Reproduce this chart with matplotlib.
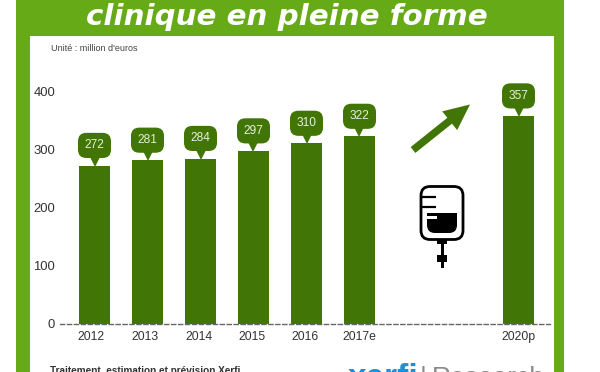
import matplotlib
matplotlib.use("Agg")
import matplotlib.pyplot as plt
from matplotlib.patches import FancyBboxPatch, FancyArrow, Rectangle
from matplotlib.transforms import offset_copy, ScaledTranslation

W, H = 600, 372

# data
years = ["2012", "2013", "2014", "2015", "2016", "2017e", "2020p"]
slots = [0, 1, 2, 3, 4, 5, 8]
values = [272, 281, 284, 297, 310, 322, 357]
yticks = [0, 100, 200, 300, 400]

title = "clinique en pleine forme"
unit = "Unité : million d'euros"
source = "Traitement, estimation et prévision Xerfi"

BAR = "#417505"
FRAME = "#66AB17"
TEXT = "#333333"

plt.rcParams["font.family"] = ["Liberation Sans", "DejaVu Sans"]

fig = plt.figure(figsize=(W / 100, H / 100), dpi=100, facecolor="white")

# page furniture, in pixel coordinates
bg = fig.add_axes([0, 0, 1, 1], zorder=0)
bg.set_xlim(0, W)
bg.set_ylim(H, 0)
bg.axis("off")
bg.add_patch(Rectangle((16, -2), 548, H + 4, color=FRAME, lw=0))
bg.add_patch(Rectangle((30, 36), 524, H, color="white", lw=0))
bg.text(287, 25, title, color="white", fontsize=21.2, family="DejaVu Sans",
        fontweight="bold", fontstyle="oblique", ha="center", va="baseline")
bg.text(51, 51, unit, color="#444444", fontsize=6.5, va="baseline")
bg.text(50, 374, source, color="#333333", fontsize=7.2, fontweight="bold", va="baseline")
bg.text(348, 387, "xerfi", color="#1F8FD6", fontsize=24, fontweight="bold", va="baseline")
bg.text(420, 385, "|", color="#8A8A8A", fontsize=19, va="baseline")
bg.text(432, 385, "Research", color="#8A8A8A", fontsize=19, va="baseline")

# growth arrow
bg.add_patch(FancyArrow(413, 150, 57, -45.5, width=7.5, head_width=24, head_length=26,
                        length_includes_head=True, color=BAR, lw=0))

# drip bag icon
bg.add_patch(FancyBboxPatch((427, 213), 30, 20, boxstyle="round,pad=0,rounding_size=8",
                            fc="black", ec="none"))
bg.add_patch(Rectangle((427, 213), 30, 8, color="black", lw=0))
bg.add_patch(FancyBboxPatch((421, 186.5), 42, 53, boxstyle="round,pad=0,rounding_size=9",
                            fc="none", ec="black", lw=2))
for y in [197, 207]:
    bg.plot([421, 436], [y, y], color="black", lw=1.6, solid_capstyle="butt")
bg.add_patch(Rectangle((426, 216), 11, 3, color="white", lw=0))
bg.add_patch(Rectangle((437, 239), 10, 5, color="black", lw=0))
bg.add_patch(Rectangle((440.5, 243), 3, 25, color="black", lw=0))
bg.add_patch(Rectangle((437, 255), 10, 7, color="black", lw=0))

# bar chart: slot 0 sits at x=94.5 px, one slot is 53 px; 0 at y=324 px, 400 at y=91 px
left, right, bottom, top = 60, 550, 324, 60
ax = fig.add_axes([left / W, 1 - bottom / H, (right - left) / W, (bottom - top) / H], zorder=1)
ax.patch.set_alpha(0)
ax.set_xlim((left - 94.5) / 53, (right - 94.5) / 53)
ax.set_ylim(0, 400 * (bottom - top) / (324 - 91))
ax.bar(slots, values, width=31 / 53, color=BAR, zorder=2)

ax.set_xticks(slots)
ax.set_xticklabels(years, fontsize=8.8, color=TEXT)
ax.set_yticks(yticks)
ax.set_yticklabels([str(t) for t in yticks], fontsize=9.4, color=TEXT)
ax.tick_params(length=0)
ax.tick_params(axis="x", pad=5)
ax.tick_params(axis="y", pad=3.6)

# the year labels sit a little left of their bars in the original
for lab, dx in zip(ax.get_xticklabels(), [-3, -2, -1, -1, -1, 0, 0]):
    lab.set_transform(lab.get_transform() + ScaledTranslation(dx / 100, 0, fig.dpi_scale_trans))

for s in ax.spines.values():
    s.set_visible(False)
ax.spines["bottom"].set_visible(True)
ax.spines["bottom"].set_linestyle((0, (3, 2)))
ax.spines["bottom"].set_color("#666666")
ax.spines["bottom"].set_linewidth(1)

# value callouts above each bar
tip = offset_copy(ax.transData, fig=fig, x=0, y=3.6, units="points")
ax.plot(slots, values, ls="none", marker="v", ms=8, color=BAR, mew=0, transform=tip,
        clip_on=False, zorder=3)
for x, v in zip(slots, values):
    ax.annotate(str(v), xy=(x, v), xytext=(0, 14.5), textcoords="offset points",
                ha="center", va="center", color="#E8F0DC", fontsize=8.6, zorder=4,
                bbox=dict(boxstyle="round,pad=0.55,rounding_size=0.7", fc=BAR, ec="none"))

fig.savefig("out.png", dpi=100)
